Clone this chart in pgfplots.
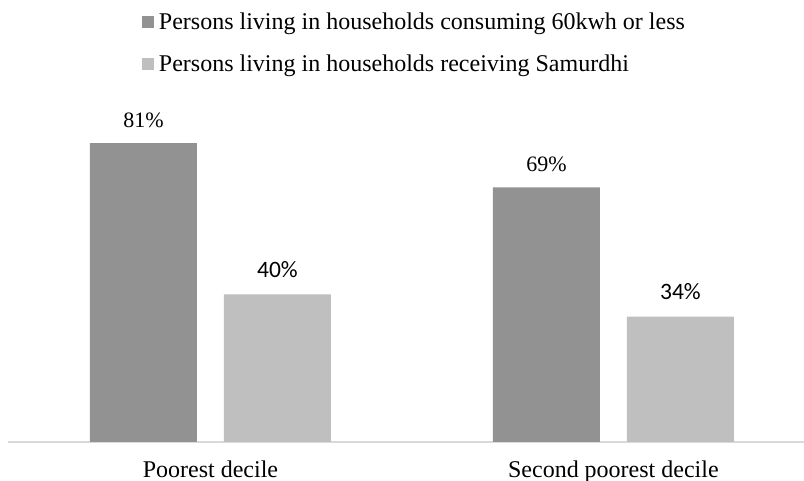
\documentclass[border=0pt]{standalone}
\usepackage{fontspec}
\setmainfont{Liberation Serif}
\newfontfamily\carlito{Carlito}
\usepackage{pgfplots}
\pgfplotsset{compat=1.18}
\definecolor{darkbar}{RGB}{146,146,146}
\definecolor{lightbar}{RGB}{191,191,191}
\definecolor{axisgray}{RGB}{217,217,217}
\begin{document}
\begin{tikzpicture}
\useasboundingbox (0,0) rectangle (804pt,481pt);
\begin{axis}[
  at={(8pt,39pt)}, anchor=south west,
  scale only axis,
  width=796pt, height=313.65pt,
  xmin=-0.5025, xmax=1.473,
  ymin=0, ymax=85,
  axis x line*=bottom,
  axis y line=none,
  x axis line style={-, color=axisgray, line width=1.8pt},
  xtick={0,1},
  xticklabels={Poorest decile, Second poorest decile},
  xtick style={draw=none},
  xticklabel style={anchor=base, yshift=-36pt, inner sep=0pt, font=\fontsize{24}{24}\selectfont},
  clip=false,
  point meta=explicit symbolic,
  nodes near coords,
  legend style={draw=none, fill=none, at={(0.1683,1.3695)}, anchor=north west,
    inner sep=0pt, outer sep=0pt, row sep=24pt, column sep=0pt,
    nodes={inner sep=0pt, font=\fontsize{24}{24}\selectfont}},
  legend cell align=left,
  legend image code/.code={\fill[#1, draw=none] (0pt,-6pt) rectangle (12pt,6pt); \path (17pt,0pt);},
]
\addplot[ybar, bar width=107pt, bar shift=-67pt, fill=darkbar, draw=none,
  every node near coord/.append style={anchor=base, xshift=-67pt, yshift=15.5pt, inner sep=0pt, font=\fontsize{22}{22}\selectfont, color=black}]
  coordinates {(0,81)[81\%] (1,69)[69\%]};
\addlegendentry{Persons living in households consuming 60kwh or less}
\addplot[ybar, bar width=107pt, bar shift=67pt, fill=lightbar, draw=none,
  every node near coord/.append style={anchor=base, xshift=67pt, yshift=17pt, inner sep=0pt, font=\carlito\fontsize{23.5}{23.5}\selectfont, color=black}]
  coordinates {(0,40)[40\%] (1,34)[34\%]};
\addlegendentry{Persons living in households receiving Samurdhi}
\end{axis}
\end{tikzpicture}
\end{document}
